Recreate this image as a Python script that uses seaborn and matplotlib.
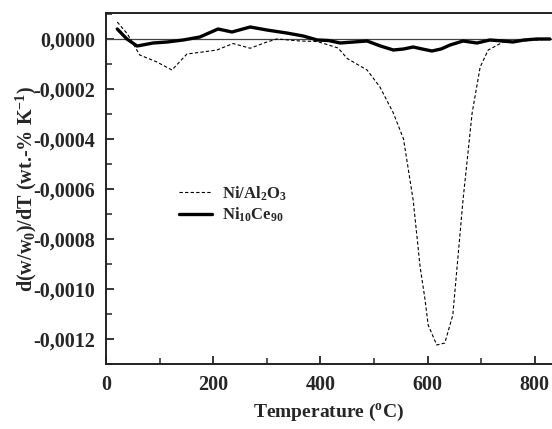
import matplotlib
matplotlib.use("Agg")
import matplotlib.pyplot as plt
import seaborn as sns
import pandas as pd
from matplotlib.ticker import FuncFormatter, MultipleLocator

# Ni/Al2O3 (dashed)
t_al = [21, 40, 63, 95, 123, 151, 180, 207, 237, 269, 300, 319, 362, 394, 433, 450, 487, 511,
        536, 555, 573, 586, 595, 601, 617, 632, 647, 666, 683, 698, 713, 741, 778, 828]
d_al = [0.000068, 0.00002, -0.000064, -0.000092, -0.000124, -0.00006, -0.000052, -0.000044,
        -0.000018, -0.000037, -0.000012, 0.0, -0.000008, -0.00001, -0.000036, -0.000078,
        -0.000124, -0.000192, -0.000296, -0.0004, -0.000644, -0.000912, -0.00104, -0.001144,
        -0.001224, -0.001216, -0.001104, -0.000644, -0.000296, -0.000112, -0.000044,
        -0.000012, -0.000008, 0.0]

# Ni10Ce90 (solid)
t_ce = [21, 39, 58, 88, 114, 144, 175, 209, 235, 269, 300, 337, 368, 394, 415, 437, 462, 487,
        512, 536, 555, 573, 590, 608, 625, 642, 666, 692, 716, 740, 759, 780, 804, 828]
d_ce = [0.00004, 0.0, -0.000028, -0.000016, -0.000012, -0.000004, 0.000008, 0.00004, 0.000028,
        0.000048, 0.000036, 0.000024, 0.000012, -0.000004, -0.000006, -0.000016, -0.000012,
        -0.000008, -0.000028, -0.000044, -0.00004, -0.000032, -0.00004, -0.000048, -0.00004,
        -0.000024, -0.000008, -0.000016, -0.000004, -0.000008, -0.000012, -0.000004, 0.0, 0.0]

label_al = r"Ni/Al$_2$O$_3$"
label_ce = r"Ni$_{10}$Ce$_{90}$"

sns.set_style("ticks")
plt.rcParams["font.family"] = ["Liberation Serif", "DejaVu Serif"]
plt.rcParams["font.weight"] = "bold"
plt.rcParams["mathtext.fontset"] = "custom"
plt.rcParams["mathtext.rm"] = "Liberation Serif:bold"
plt.rcParams["mathtext.it"] = "Liberation Serif:bold"
plt.rcParams["mathtext.bf"] = "Liberation Serif:bold"

fig = plt.figure(figsize=(5.52, 4.29), dpi=100)
ax = fig.add_axes([106 / 552, 1 - 364 / 429, 1 - 106 / 552, (364 - 13) / 429])

df_al = pd.DataFrame({"T": t_al, "d": d_al})
df_ce = pd.DataFrame({"T": t_ce, "d": d_ce})

ax.axhline(0, color="#444444", lw=0.9, zorder=1)
sns.lineplot(data=df_al, x="T", y="d", ax=ax, color="black", lw=0.8,
             label=label_al, linestyle=(0, (3, 2)))
sns.lineplot(data=df_ce, x="T", y="d", ax=ax, color="black", lw=2.4, label=label_ce)

ax.set_xlim(0, 832)
ax.set_ylim(-0.0013, 0.000104)

ax.xaxis.set_major_locator(MultipleLocator(200))
ax.xaxis.set_minor_locator(MultipleLocator(100))
ax.yaxis.set_major_locator(MultipleLocator(0.0002))
ax.yaxis.set_minor_locator(MultipleLocator(0.0001))
ax.yaxis.set_major_formatter(FuncFormatter(lambda v, p: f"{v:.4f}".replace(".", ",").replace("-0,0000", "0,0000")))
ax.tick_params(which="major", direction="in", length=6, width=1.3, labelsize=14.5, pad=8)
ax.tick_params(which="minor", direction="in", length=4, width=1.1)
ax.tick_params(top=False, right=False, which="both")

for s in ["left", "bottom", "top"]:
    ax.spines[s].set_linewidth(1.4)
    ax.spines[s].set_color("#222222")
ax.spines["right"].set_visible(False)

ax.set_xlabel(r"Temperature ($^{\rm o}$C)", fontsize=14, fontweight="bold", labelpad=5)
ax.set_ylabel(r"d(w/w$_{\rm 0}$)/dT (wt.-% K$^{-1}$)", fontsize=14.5, fontweight="bold", labelpad=-4)

leg = ax.legend(loc="upper left", bbox_to_anchor=(0.13, 0.555), frameon=False,
                fontsize=12, handlelength=2.0, handletextpad=0.6, labelspacing=0.2)

fig.savefig("out.png", dpi=100)
